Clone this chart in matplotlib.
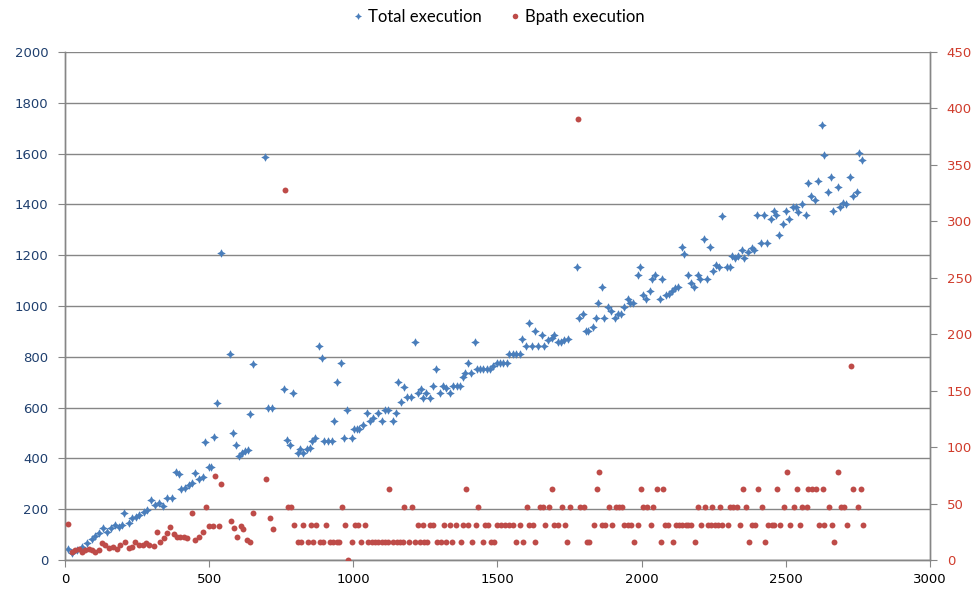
import numpy as np
import matplotlib
matplotlib.use("Agg")
import matplotlib.pyplot as plt
from matplotlib.lines import Line2D

# Total execution (left axis)
total_x = [10, 24, 42, 59, 76, 94, 104, 118, 132, 146,
           160, 173, 187, 198, 205, 222, 232, 246, 257, 274,
           284, 298, 312, 326, 340, 354, 371, 385, 395, 402,
           416, 430, 440, 451, 465, 479, 486, 500, 506, 517,
           527, 541, 572, 583, 593, 603, 614, 624, 634, 642,
           652, 695, 704, 718, 760, 770, 780, 791, 808, 815,
           825, 839, 850, 857, 867, 881, 891, 898, 912, 926,
           933, 943, 957, 967, 978, 995, 1002, 1013, 1020, 1033,
           1047, 1058, 1068, 1086, 1099, 1110, 1120, 1137, 1148, 1155,
           1165, 1176, 1186, 1200, 1214, 1224, 1234, 1242, 1252, 1266,
           1276, 1287, 1301, 1311, 1321, 1335, 1346, 1360, 1370, 1381,
           1387, 1398, 1408, 1422, 1429, 1440, 1450, 1464, 1474, 1484,
           1498, 1509, 1519, 1533, 1540, 1554, 1564, 1578, 1585, 1599,
           1609, 1620, 1630, 1640, 1654, 1661, 1675, 1689, 1696, 1710,
           1720, 1731, 1744, 1776, 1783, 1796, 1807, 1814, 1831, 1841,
           1848, 1862, 1869, 1883, 1893, 1907, 1918, 1928, 1939, 1953,
           1960, 1970, 1987, 1994, 2005, 2015, 2029, 2036, 2046, 2063,
           2070, 2084, 2095, 2105, 2115, 2126, 2140, 2147, 2161, 2171,
           2181, 2195, 2202, 2216, 2226, 2237, 2247, 2258, 2268, 2278,
           2296, 2306, 2313, 2324, 2334, 2348, 2355, 2369, 2383, 2390,
           2400, 2414, 2424, 2435, 2448, 2459, 2466, 2476, 2490, 2501,
           2511, 2525, 2535, 2542, 2556, 2570, 2577, 2587, 2601, 2611,
           2625, 2632, 2646, 2656, 2663, 2681, 2688, 2698, 2709, 2722,
           2733, 2747, 2754, 2764]
total_y = [43, 28, 39, 51, 67, 83, 94, 106, 126, 110,
           126, 138, 130, 138, 185, 146, 165, 169, 177, 189,
           197, 236, 217, 224, 213, 244, 244, 346, 339, 280,
           283, 295, 303, 342, 319, 327, 465, 366, 366, 484,
           618, 1209, 811, 500, 453, 409, 421, 429, 433, 575,
           772, 1585, 598, 598, 673, 472, 453, 657, 421, 437,
           421, 437, 441, 468, 480, 842, 795, 468, 468, 468,
           547, 701, 776, 480, 591, 480, 516, 516, 516, 531,
           579, 547, 559, 579, 547, 591, 591, 547, 579, 701,
           622, 681, 642, 642, 858, 657, 673, 638, 657, 638,
           685, 752, 657, 685, 677, 657, 685, 685, 685, 720,
           736, 776, 736, 858, 752, 752, 752, 752, 752, 764,
           776, 776, 776, 776, 811, 811, 811, 811, 870, 842,
           933, 842, 902, 842, 886, 842, 866, 874, 886, 858,
           858, 866, 870, 1154, 953, 969, 902, 902, 917, 953,
           1012, 1075, 953, 996, 980, 953, 969, 969, 996, 1028,
           1012, 1012, 1122, 1154, 1043, 1028, 1059, 1106, 1122, 1028,
           1106, 1043, 1047, 1059, 1071, 1075, 1232, 1205, 1122, 1091,
           1075, 1122, 1106, 1264, 1106, 1232, 1138, 1161, 1154, 1354,
           1154, 1154, 1197, 1189, 1197, 1220, 1189, 1213, 1228, 1220,
           1358, 1248, 1358, 1248, 1343, 1374, 1358, 1280, 1323, 1374,
           1343, 1390, 1390, 1370, 1402, 1358, 1484, 1433, 1417, 1492,
           1713, 1594, 1449, 1508, 1374, 1469, 1390, 1406, 1402, 1508,
           1433, 1449, 1602, 1575]

# Bpath execution (right axis): early points, then points sitting on fixed levels
bpath_early_x = [10, 24, 35, 49, 59, 69, 83, 94, 104, 118,
                 128, 139, 153, 166, 180, 191, 208, 222, 232, 243,
                 257, 271, 281, 291, 309, 319, 329, 343, 354, 364,
                 378, 388, 399, 413, 423, 440, 451, 465, 479, 489,
                 499, 513, 520, 534, 540, 576, 586, 596, 610, 617,
                 631, 642, 652, 697, 711, 721, 763, 1779, 2726]
bpath_early_y = [31.9, 7, 8.9, 9.7, 7, 8.9, 9.7, 8.9, 7, 8.9,
                 15, 13.3, 10.6, 11.5, 9.7, 13.3, 15.9, 10.6, 11.5, 15.9,
                 13.3, 13.3, 15, 13.3, 12.4, 24.8, 15.9, 19.5, 23.9, 29.2,
                 23, 20.4, 20.4, 20.4, 19.5, 41.6, 17.7, 20.4, 24.8, 47,
                 30.1, 30.1, 74.4, 30.1, 67.3, 34.5, 28.3, 20.4, 30.1, 27.5,
                 17.7, 15.9, 41.6, 71.8, 37.2, 27.5, 328.1, 390.6, 171.9]

bpath_at_0 = [981]
bpath_at_15 = [808, 819, 843, 860, 884, 895, 919, 929, 943, 950, 995, 1027,
               1051, 1064, 1075, 1087, 1098, 1110, 1121, 1139, 1150, 1162,
               1173, 1193, 1214, 1231, 1246, 1257, 1289, 1303, 1321, 1341,
               1372, 1410, 1448, 1476, 1487, 1564, 1587, 1630, 1742, 1809,
               1817, 1973, 2066, 2107, 2185, 2373, 2428, 2667]
bpath_at_31 = [794, 825, 853, 870, 905, 971, 1006, 1016, 1040, 1225, 1243,
               1266, 1277, 1314, 1335, 1356, 1381, 1399, 1425, 1457, 1468,
               1499, 1511, 1526, 1541, 1555, 1578, 1610, 1624, 1665, 1697,
               1709, 1734, 1835, 1861, 1873, 1898, 1940, 1954, 1963, 1988,
               2032, 2081, 2092, 2118, 2129, 2141, 2153, 2162, 2171, 2206,
               2229, 2240, 2254, 2266, 2277, 2298, 2341, 2381, 2393, 2437,
               2451, 2460, 2480, 2514, 2549, 2615, 2633, 2659, 2711, 2768]
bpath_at_47 = [773, 784, 961, 1177, 1202, 1433, 1603, 1647, 1657, 1679, 1725,
               1751, 1786, 1801, 1887, 1910, 1921, 1933, 2006, 2017, 2040,
               2196, 2220, 2243, 2272, 2306, 2318, 2329, 2361, 2418, 2495,
               2529, 2557, 2572, 2650, 2691, 2703, 2749]
bpath_at_62 = [1125, 1391, 1688, 1844, 1998, 2052, 2075, 2350, 2402, 2470,
               2537, 2578, 2589, 2603, 2630, 2734, 2759]
bpath_at_78 = [1853, 2503, 2682]

level_values = [0, 15.6, 31.3, 46.9, 62.5, 78.1]
level_groups = [bpath_at_0, bpath_at_15, bpath_at_31, bpath_at_47, bpath_at_62, bpath_at_78]

bpath_x = list(bpath_early_x)
bpath_y = list(bpath_early_y)
for v, xs in zip(level_values, level_groups):
    bpath_x += xs
    bpath_y += [v] * len(xs)

BLUE = '#4A7EBB'
RED = '#BE4B48'
GREY = '#868686'

fig = plt.figure(figsize=(9.8, 5.95), dpi=100)
ax = fig.add_axes([0.0663, 0.0588, 0.8827, 0.8538])
ax2 = ax.twinx()

star = (4, 1, 0)
ax.scatter(total_x, total_y, s=38, marker=star, color=BLUE, linewidths=0, zorder=3)
ax2.scatter(bpath_x, bpath_y, s=18, marker='o', color=RED, linewidths=0, zorder=3)

ax.set_xlim(0, 3000)
ax.set_ylim(0, 2000)
ax2.set_ylim(0, 450)
ax.set_xticks(np.arange(0, 3001, 500))
ax.set_yticks(np.arange(0, 2001, 200))
ax2.set_yticks(np.arange(0, 451, 50))

ax.grid(axis='y', color=GREY, linewidth=1)
ax.set_axisbelow(True)

for a in (ax, ax2):
    for side in ('left', 'right', 'bottom'):
        a.spines[side].set_color(GREY)
        a.spines[side].set_linewidth(1)
    a.spines['top'].set_visible(False)

ax.tick_params(axis='y', direction='out', length=5, color=GREY, labelsize=9.5,
               labelcolor='#1F3F6E', pad=7)
ax.tick_params(axis='x', direction='out', length=5, color=GREY, labelsize=9.5,
               labelcolor='black', pad=4)
ax2.tick_params(axis='y', direction='out', length=5, color=GREY, labelsize=9.5,
                labelcolor='#D03C2C', pad=7)

handles = [Line2D([], [], linestyle='none', marker=star, markersize=5, color=BLUE,
                  markeredgewidth=0, label='Total execution'),
           Line2D([], [], linestyle='none', marker='o', markersize=4, color=RED,
                  markeredgewidth=0, label='Bpath execution')]
fig.legend(handles=handles, loc='center', bbox_to_anchor=(0.508, 0.971), ncol=2,
           frameon=False, handletextpad=0.2, columnspacing=1.6, handlelength=0.8,
           prop={'family': 'Lato', 'size': 12})

fig.savefig('out.png', dpi=100)
